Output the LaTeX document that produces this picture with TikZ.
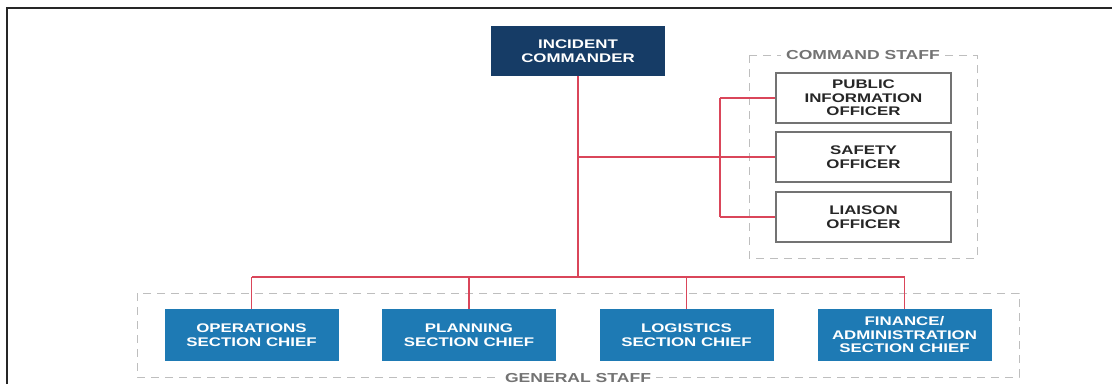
\documentclass[tikz,border=0pt]{standalone}
\usepackage{fontspec}
\usepackage{tikz}
\usetikzlibrary{calc}
\newfontfamily\chartfont[FakeStretch=1.35]{Liberation Sans}
\definecolor{icsnavy}{RGB}{22,60,102}
\definecolor{icsblue}{RGB}{30,122,180}
\definecolor{icsred}{RGB}{218,70,90}
\definecolor{icsframe}{RGB}{190,190,190}
\definecolor{icslabel}{RGB}{115,115,115}
\tikzset{
  chief/.style={draw=none,fill=icsblue,text=white,align=center,
    minimum width=174pt,minimum height=52pt,inner sep=0pt,
    font=\chartfont\bfseries\fontsize{12.5}{13.5}\selectfont},
  commander/.style={chief,fill=icsnavy,minimum height=50pt},
  officer/.style={chief,fill=white,text=black!85,draw=black!55,line width=1.2pt,
    minimum width=175pt,minimum height=50pt},
  link/.style={draw=icsred,line width=1.6pt},
  staffframe/.style={draw=icsframe,line width=1pt,dash pattern=on 8pt off 6pt},
  stafflabel/.style={fill=white,text=icslabel,inner xsep=5pt,inner ysep=1pt,
    font=\chartfont\bfseries\fontsize{13}{14}\selectfont}
}
\begin{document}
\begin{tikzpicture}[x=1pt,y=-1pt]
  \useasboundingbox (0,0) rectangle (1112,384);
  \draw[line width=1.6pt,black!85] (7,384) -- (7,8) -- (1112,8);% page border

  % staff frames
  \draw[staffframe] (749,55) rectangle (977,258);
  \draw[staffframe] (137,293) rectangle (1019,377);
  \node[stafflabel] (cmdlabel) at (863,55) {COMMAND STAFF};
  \node[stafflabel] (genlabel) at (578,378) {GENERAL STAFF};

  \node[commander] (ic) at (578,51) {INCIDENT\\COMMANDER};

  \node[officer] (pio) at (863.5,98) {PUBLIC\\INFORMATION\\OFFICER};
  \node[officer] (so) at (863.5,157) {SAFETY\\OFFICER};
  \node[officer] (lo) at (863.5,217) {LIAISON\\OFFICER};

  \node[chief] (ops) at (251.5,335) {OPERATIONS\\SECTION CHIEF};
  \node[chief] (plan) at (469,335) {PLANNING\\SECTION CHIEF};
  \node[chief] (log) at (686.5,335) {LOGISTICS\\SECTION CHIEF};
  \node[chief] (fin) at (904.5,335) {FINANCE/\\ADMINISTRATION\\SECTION CHIEF};

  \coordinate (hub) at (578,157);
  \coordinate (bar) at (578,277);
  \coordinate (cmdbar) at (720,157);

  % connectors
  \draw[link] (ic) -- (bar);
  \draw[link] (bar -| ops) -- (bar -| fin);
  \foreach \n in {ops,plan,log,fin}
    \draw[link] (bar -| \n) -- (\n);
  \draw[link] (hub) -- (cmdbar);
  \draw[link] (cmdbar |- pio) -- (cmdbar |- lo);
  \foreach \n in {pio,so,lo}
    \draw[link] (cmdbar |- \n) -- (\n);
\end{tikzpicture}
\end{document}
